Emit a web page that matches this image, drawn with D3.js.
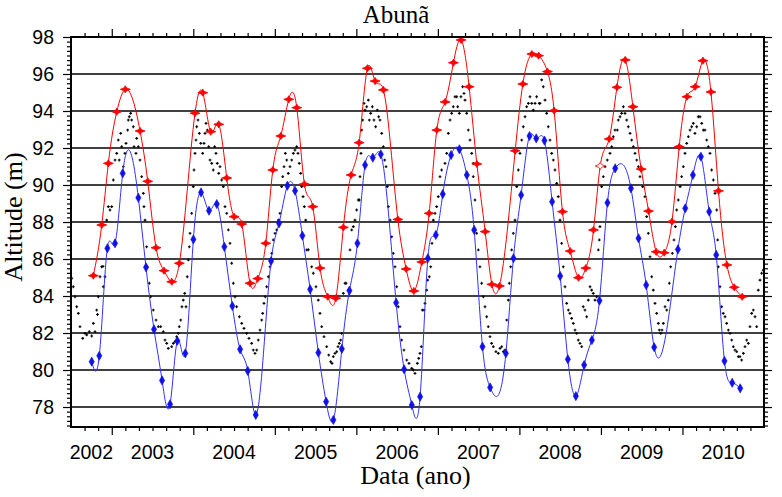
<!DOCTYPE html>
<html><head><meta charset="utf-8">
<script src="https://cdn.jsdelivr.net/npm/d3@7"></script>
<style>body{margin:0;background:#fff}</style>
</head><body>
<svg id="chart" width="782" height="497"></svg>
<script>
// ---------- data ----------
const chartTitle = "Abunã";
const xTitle = "Data (ano)";
const yTitle = "Altitude (m)";
const yearLabels = [2002, 2003, 2004, 2005, 2006, 2007, 2008, 2009, 2010];
const yTickValues = [78, 80, 82, 84, 86, 88, 90, 92, 94, 96, 98];

// in-situ gauge (black dots): decimal year, altitude (m) -- first reading pass
const gaugeYear = [2002.509,2002.549,2002.590,2002.644,2002.693,2002.754,2002.794,2002.825,2002.856,2002.892,2002.938,2002.978,
2003.040,2003.080,2003.122,2003.162,2003.203,2003.232,2003.264,2003.306,2003.346,2003.387,2003.408,2003.428,2003.460,2003.509,2003.571,2003.632,2003.674,2003.735,2003.776,2003.816,2003.846,2003.877,2003.911,2003.939,2003.960,2003.980,
2004.000,2004.021,2004.042,2004.074,2004.115,2004.144,2004.172,2004.205,2004.245,2004.278,2004.312,2004.348,2004.389,2004.410,2004.450,2004.491,2004.532,2004.594,2004.655,2004.716,2004.757,2004.797,2004.839,2004.867,2004.900,2004.941,2004.981,
2005.023,2005.063,2005.084,2005.113,2005.146,2005.186,2005.227,2005.268,2005.300,2005.330,2005.362,2005.379,2005.411,2005.472,2005.533,2005.575,2005.636,2005.685,2005.717,2005.759,2005.791,2005.820,2005.840,2005.861,2005.901,2005.943,2005.983,
2006.024,2006.045,2006.066,2006.106,2006.147,2006.176,2006.216,2006.257,2006.290,2006.331,2006.364,2006.392,2006.434,2006.474,2006.514,2006.556,2006.618,2006.679,2006.719,2006.748,2006.781,2006.809,2006.842,2006.875,2006.912,2006.944,2006.985,
2007.026,2007.087,2007.149,2007.189,2007.231,2007.263,2007.304,2007.333,2007.373,2007.415,2007.434,2007.455,2007.476,2007.516,2007.557,2007.599,2007.639,2007.680,2007.741,2007.783,2007.823,2007.844,2007.876,2007.905,2007.946,2007.967,
2008.007,2008.048,2008.089,2008.130,2008.170,2008.211,2008.244,2008.273,2008.314,2008.354,2008.396,2008.436,2008.477,2008.498,2008.538,2008.580,2008.620,2008.661,2008.703,2008.743,2008.764,2008.783,2008.825,2008.866,2008.906,2008.948,2008.968,2008.988,
2009.009,2009.050,2009.111,2009.152,2009.201,2009.234,2009.275,2009.316,2009.357,2009.397,2009.439,2009.479,2009.540,2009.581,2009.623,2009.663,2009.704,2009.733,2009.765,2009.786,2009.826,2009.855,2009.896,2009.929,2009.949,2009.990,
2010.031,2010.072,2010.113,2010.153,2010.194,2010.236,2010.276,2010.317,2010.358,2010.399,2010.420,2010.440,2010.481,2010.522,2010.563,2010.604,2010.644,2010.685,2010.726,2010.767,2010.808,2010.828,2010.869,2010.910,2010.930,2010.971,2010.991];
const gaugeAlt = [84.96,83.96,83.06,81.71,81.90,81.84,82.07,83.00,85.04,85.60,88.10,88.65,
91.35,92.43,92.07,91.71,93.51,93.87,93.15,92.52,91.35,89.55,88.10,86.66,84.69,83.24,82.34,82.07,81.44,81.26,81.53,81.98,82.70,83.78,83.42,85.95,87.39,88.47,
89.91,91.71,93.15,92.79,91.71,92.79,92.97,91.35,90.81,91.71,90.63,90.27,88.83,88.47,86.85,84.69,83.42,82.52,81.98,81.44,80.90,81.62,82.70,83.60,84.50,85.58,87.03,
87.57,88.47,89.91,90.99,91.35,90.99,91.71,92.07,91.17,89.91,88.83,88.10,86.50,85.23,83.78,82.34,81.26,80.45,80.72,80.99,81.44,81.98,84.14,84.69,84.32,87.57,88.10,
89.19,90.45,92.97,94.05,94.59,93.87,93.51,94.05,93.51,92.07,90.99,88.83,87.20,85.58,83.42,81.62,80.54,80.09,79.82,80.36,80.90,83.24,83.60,84.86,85.58,88.10,88.83,
90.45,91.17,93.51,94.23,94.77,93.87,95.31,94.59,92.97,91.71,90.45,89.19,87.39,85.58,83.96,82.88,81.80,81.26,80.90,81.26,81.08,82.70,84.69,86.49,88.10,89.91,
91.71,93.15,94.23,94.77,94.05,94.77,94.41,95.68,94.59,93.15,91.71,90.81,89.37,88.10,85.58,83.60,83.06,82.52,81.98,81.44,81.26,83.42,82.88,84.50,84.14,83.96,86.49,87.75,
89.91,90.99,91.71,92.61,92.97,93.69,94.23,93.51,92.79,92.07,91.35,90.45,89.37,87.39,85.04,83.60,82.52,81.98,82.52,83.42,83.78,85.58,87.03,88.65,89.19,90.45,
91.71,92.61,93.15,92.79,93.69,93.33,92.97,92.07,90.81,89.55,88.65,85.58,83.42,82.88,82.16,81.62,81.08,80.72,80.54,81.26,81.44,82.34,83.24,82.34,84.32,85.23,85.40];

// in-situ gauge -- second reading pass (in-between days)
const gaugeYear2 = [2002.528,2002.570,2002.610,2002.672,2002.724,2002.774,2002.815,2002.835,2002.876,2002.896,2002.917,2002.958,
2002.999,2003.019,2003.061,2003.092,2003.110,2003.142,2003.175,2003.195,2003.215,2003.244,2003.273,2003.297,2003.326,2003.367,2003.395,
2003.436,2003.477,2003.543,2003.600,2003.653,2003.693,2003.755,2003.796,2003.828,2003.861,2003.895,2003.926,2003.951,
2004.009,2004.033,2004.058,2004.091,2004.131,2004.156,2004.189,2004.226,2004.262,2004.294,2004.328,2004.368,
2004.430,2004.471,2004.512,2004.565,2004.622,2004.683,2004.736,2004.778,2004.818,2004.851,2004.883,2004.920,2004.962,2005.002,2005.043,
2005.097,2005.129,2005.165,2005.207,2005.247,2005.284,2005.317,2005.346,
2005.391,2005.452,2005.505,2005.554,2005.603,2005.661,2005.701,2005.738,2005.775,2005.808,2005.873,2005.922,2005.963,2006.004,
2006.036,2006.057,2006.078,2006.094,2006.127,2006.159,2006.196,2006.237,2006.274,2006.311,2006.347,2006.379,
2006.413,2006.453,2006.495,2006.535,2006.584,2006.646,2006.699,2006.765,2006.797,2006.830,2006.863,2006.895,2006.928,2006.965,
2007.005,2007.046,2007.108,2007.128,2007.169,2007.210,2007.243,2007.283,2007.320,2007.353,2007.394,2007.434,
2007.496,2007.537,2007.578,2007.618,2007.659,2007.712,2007.762,2007.803,2007.864,2007.893,2007.925,
2007.987,2008.028,2008.069,2008.110,2008.151,2008.192,2008.252,2008.293,2008.334,2008.375,2008.416,2008.457,
2008.518,2008.559,2008.600,2008.641,2008.682,2008.722,2008.804,2008.845,2008.886,2008.927,2008.980,
2009.029,2009.078,2009.132,2009.172,2009.213,2009.254,2009.295,2009.336,2009.377,2009.418,2009.459,2009.512,
2009.561,2009.602,2009.642,2009.684,2009.716,2009.749,2009.807,2009.839,2009.876,2009.913,
2009.971,2010.011,2010.052,2010.093,2010.133,2010.175,2010.215,2010.256,2010.297,2010.338,2010.379,
2010.432,2010.460,2010.500,2010.542,2010.583,2010.624,2010.665,2010.705,2010.747,2010.788,2010.849,2010.890,2010.951];
const gaugeAlt2 = [84.50,83.42,82.34,81.98,82.07,82.52,83.24,83.96,85.58,84.50,85.04,88.83,
88.83,90.27,91.71,91.35,92.79,90.99,92.25,92.97,93.69,93.51,92.07,91.71,92.07,90.45,88.83,
85.58,83.96,82.70,82.34,81.62,81.17,81.44,81.80,82.34,83.42,84.14,85.04,86.66,
90.81,92.43,93.51,92.25,92.25,93.33,92.07,91.17,92.07,91.17,90.99,89.91,
87.57,85.77,83.96,82.88,82.25,81.71,81.08,81.08,82.16,83.06,83.96,85.04,86.31,87.39,88.10,
90.45,91.71,90.63,91.35,91.89,91.71,90.63,89.37,
86.49,85.58,84.50,83.06,81.80,80.81,80.36,80.90,81.26,81.62,84.69,86.49,87.75,88.65,
89.19,91.71,93.51,94.41,94.23,93.51,94.23,93.15,93.69,92.79,91.35,89.91,
88.10,86.31,84.50,82.34,81.08,80.36,80.00,80.63,81.26,83.24,84.32,85.04,86.85,88.47,
89.37,90.81,91.71,92.79,93.87,94.77,94.23,94.77,94.95,93.87,92.43,91.17,
86.49,84.69,83.42,82.34,81.44,80.99,81.17,80.99,83.78,85.58,87.39,
90.81,92.43,93.69,94.41,94.41,94.41,94.41,95.31,93.87,92.43,91.35,90.09,
86.85,84.50,83.24,82.79,82.16,81.62,83.24,83.78,84.32,83.78,87.03,
90.45,91.35,92.07,92.97,93.51,93.87,93.87,93.15,92.43,91.71,90.99,89.91,
88.29,86.12,84.32,83.06,82.16,82.16,83.24,84.69,86.31,87.75,
89.91,90.99,92.25,92.97,93.33,93.15,93.69,92.97,92.43,91.71,90.27,
87.03,84.50,83.06,82.52,81.98,81.26,80.99,80.72,80.90,81.62,83.06,82.88,84.86];

// altimetry series 1 (red)
const redYear = [2002.774,2002.877,2002.958,2003.061,2003.166,2003.347,2003.441,2003.543,2003.641,2003.736,2003.829,2004.021,2004.116,2004.214,2004.312,2004.410,2004.500,2004.594,2004.696,2004.791,2004.889,2004.975,2005.073,2005.171,2005.269,2005.363,2005.465,2005.555,2005.649,2005.748,2005.841,2005.936,2006.034,2006.136,2006.230,2006.332,2006.509,2006.611,2006.705,2006.803,2006.893,2006.987,2007.089,2007.191,2007.285,2007.383,2007.478,2007.580,2007.662,2007.755,2007.948,2008.042,2008.153,2008.235,2008.344,2008.426,2008.528,2008.623,2008.725,2008.815,2008.909,2008.991,2009.101,2009.196,2009.298,2009.392,2009.494,2009.584,2009.678,2009.776,2009.871,2009.960,2010.055,2010.156,2010.251,2010.349,2010.442,2010.545,2010.635,2010.733];
const redAlt = [85.10,87.84,91.17,93.96,95.17,92.92,90.20,86.61,85.37,84.77,85.77,93.88,94.99,92.88,93.28,90.38,88.29,87.89,84.69,84.94,86.85,90.81,92.65,94.63,94.18,90.05,88.83,85.51,83.96,83.88,87.71,90.54,92.29,96.31,95.62,95.14,88.14,85.46,84.27,85.84,88.47,92.97,94.49,96.61,97.84,95.31,91.14,87.48,84.63,84.54,91.85,95.46,97.08,96.99,96.13,94.02,88.56,86.43,84.99,85.51,87.57,91.03,92.49,95.28,96.76,94.23,90.86,88.59,86.39,86.34,88.02,92.07,94.77,95.31,96.72,95.03,89.68,85.68,84.47,83.96];
const redHollow = [2008.991];

// altimetry series 2 (blue)
const blueYear = [2002.754,2002.847,2002.946,2003.040,2003.134,2003.326,2003.420,2003.518,2003.617,2003.715,2003.804,2003.902,2004.001,2004.095,2004.193,2004.288,2004.381,2004.479,2004.574,2004.668,2004.766,2004.954,2005.052,2005.154,2005.248,2005.338,2005.433,2005.534,2005.629,2005.718,2005.822,2005.915,2006.013,2006.107,2006.202,2006.300,2006.488,2006.586,2006.680,2006.782,2006.877,2006.975,2007.060,2007.162,2007.264,2007.355,2007.445,2007.547,2007.641,2007.834,2007.927,2008.021,2008.124,2008.206,2008.307,2008.401,2008.500,2008.594,2008.692,2008.794,2008.889,2008.982,2009.080,2009.175,2009.368,2009.461,2009.555,2009.653,2009.944,2010.034,2010.128,2010.226,2010.328,2010.414,2010.515,2010.610,2010.708];
const blueAlt = [80.45,80.77,86.58,86.85,90.63,89.31,85.55,82.20,79.44,78.15,81.58,80.90,87.06,89.60,88.61,88.97,86.66,83.46,81.12,79.95,77.57,85.89,87.93,89.96,89.69,87.26,84.36,80.94,78.29,77.30,81.14,84.29,86.85,91.08,91.48,91.66,83.64,80.04,78.11,78.56,86.04,87.30,89.51,91.62,91.93,90.54,87.57,81.26,79.06,80.90,86.04,89.46,92.65,92.52,92.40,89.10,85.08,80.58,78.59,80.27,81.62,83.75,89.04,90.90,89.82,87.12,84.59,81.23,86.52,88.74,90.54,91.53,88.56,86.22,80.49,79.31,79.01];

// ---------- drawing ----------
const svg = d3.select("#chart");
const X0 = 71, X1 = 764, Y0 = 37, Y1 = 427;
const x = d3.scaleLinear().domain([2002.5, 2011]).range([X0, X1]);
const y = d3.scaleLinear().domain([76.92, 98]).range([Y1, Y0]);

const sans = "'Liberation Sans', Arial, sans-serif";
const serif = "'Liberation Serif', 'Times New Roman', serif";

// natural cubic spline y(x) as a d3 curve (emits one Bezier per segment)
function curveSplineX(context) {
  let xs, ys;
  return {
    areaStart() {}, areaEnd() {},
    lineStart() { xs = []; ys = []; },
    point(px, py) { xs.push(+px); ys.push(+py); },
    lineEnd() {
      const n = xs.length;
      if (!n) return;
      context.moveTo(xs[0], ys[0]);
      if (n === 1) return;
      if (n === 2) { context.lineTo(xs[1], ys[1]); return; }
      const h = [];
      for (let i = 0; i < n - 1; i++) h.push(xs[i + 1] - xs[i]);
      const a = [], b = [], c = [], r = [];
      for (let i = 1; i < n - 1; i++) {
        a.push(h[i - 1]); b.push(2 * (h[i - 1] + h[i])); c.push(h[i]);
        r.push(6 * ((ys[i + 1] - ys[i]) / h[i] - (ys[i] - ys[i - 1]) / h[i - 1]));
      }
      const m = r.length;
      for (let i = 1; i < m; i++) { const w = a[i] / b[i - 1]; b[i] -= w * c[i - 1]; r[i] -= w * r[i - 1]; }
      const sol = new Array(m);
      sol[m - 1] = r[m - 1] / b[m - 1];
      for (let i = m - 2; i >= 0; i--) sol[i] = (r[i] - c[i] * sol[i + 1]) / b[i];
      const M = [0, ...sol, 0];
      for (let i = 0; i < n - 1; i++) {
        const hi = h[i], s = (ys[i + 1] - ys[i]) / hi;
        const d0 = s - hi * (2 * M[i] + M[i + 1]) / 6;
        const d1 = s + hi * (M[i] + 2 * M[i + 1]) / 6;
        context.bezierCurveTo(xs[i] + hi / 3, ys[i] + d0 * hi / 3,
                              xs[i + 1] - hi / 3, ys[i + 1] - d1 * hi / 3,
                              xs[i + 1], ys[i + 1]);
      }
    }
  };
}

svg.append("rect").attr("width", 782).attr("height", 497).attr("fill", "#fff");

svg.append("defs").append("clipPath").attr("id", "plot")
  .append("rect").attr("x", X0).attr("y", Y0).attr("width", X1 - X0).attr("height", Y1 - Y0);

// gridlines
svg.append("g").selectAll("line").data(yTickValues.filter(v => v < 98)).join("line")
  .attr("x1", X0).attr("x2", X1).attr("y1", d => y(d)).attr("y2", d => y(d))
  .attr("stroke", "#000").attr("stroke-width", 1.5);

const minorY = d3.range(77, 98.001, 0.25).filter(v => Math.abs(v / 2 - Math.round(v / 2)) > 1e-6);
const minorX = d3.range(0, 52).map(i => 2002.5 + i / 6).filter(v => Math.abs(v - Math.round(v)) > 1e-6 && v > 2002.55 && v < 2010.99);
const majorX = yearLabels.filter(v => v > 2002.5);

function styleAxis(g) {
  g.select(".domain").remove();
  g.selectAll(".tick line").attr("stroke", "#000").attr("stroke-width", 1.2);
}

svg.append("g").attr("transform", `translate(${X0},0)`)
  .call(d3.axisLeft(y).tickValues(yTickValues).tickSize(8).tickPadding(9).tickFormat(d3.format("d")))
  .call(styleAxis)
  .call(g => g.selectAll("text").attr("font-family", sans).attr("font-size", "19.5px").attr("fill", "#000"));
svg.append("g").attr("transform", `translate(${X0},0)`)
  .call(d3.axisLeft(y).tickValues(minorY).tickSize(4).tickFormat("")).call(styleAxis);
svg.append("g").attr("transform", `translate(${X1},0)`)
  .call(d3.axisRight(y).tickValues(yTickValues).tickSize(8).tickFormat("")).call(styleAxis);
svg.append("g").attr("transform", `translate(${X1},0)`)
  .call(d3.axisRight(y).tickValues(minorY).tickSize(4).tickFormat("")).call(styleAxis);
svg.append("g").attr("transform", `translate(0,${Y1})`)
  .call(d3.axisBottom(x).tickValues(majorX).tickSize(8).tickFormat("")).call(styleAxis);
svg.append("g").attr("transform", `translate(0,${Y1})`)
  .call(d3.axisBottom(x).tickValues(minorX).tickSize(4).tickFormat("")).call(styleAxis);
svg.append("g").attr("transform", `translate(0,${Y0})`)
  .call(d3.axisTop(x).tickValues(majorX).tickSize(8).tickFormat("")).call(styleAxis);
svg.append("g").attr("transform", `translate(0,${Y0})`)
  .call(d3.axisTop(x).tickValues(minorX).tickSize(4).tickFormat("")).call(styleAxis);

const [d0, d1] = x.domain();
svg.append("g").selectAll("text").data(yearLabels).join("text")
  .attr("x", d => x((Math.max(d, d0) + Math.min(d + 1, d1)) / 2))
  .attr("y", 459)
  .attr("text-anchor", "middle")
  .attr("font-family", sans).attr("font-size", "19.5px").attr("fill", "#000")
  .text(d => d);

const layer = svg.append("g").attr("clip-path", "url(#plot)");

const gauge = gaugeYear.map((t, i) => [t, gaugeAlt[i]])
  .concat(gaugeYear2.map((t, i) => [t, gaugeAlt2[i]]));
layer.append("g").selectAll("path").data(gauge).join("path")
  .attr("transform", d => `translate(${x(d[0])},${y(d[1])})`)
  .attr("d", "M-1.4,0H1.4M0,-1.4V1.4")
  .attr("stroke", "#000").attr("stroke-width", 1.1).attr("fill", "none");

const line = d3.line().x(d => x(d[0])).y(d => y(d[1])).curve(curveSplineX);

const red = redYear.map((t, i) => [t, redAlt[i]]);
const blue = blueYear.map((t, i) => [t, blueAlt[i]]);

layer.append("path").datum(red).attr("d", line)
  .attr("fill", "none").attr("stroke", "#ff0000").attr("stroke-width", 1);
layer.append("path").datum(blue).attr("d", line)
  .attr("fill", "none").attr("stroke", "#3030ff").attr("stroke-width", 1);

const starPath = "M-5,0L-1.4,-1.4L0,-3.6L1.4,-1.4L5,0L1.4,1.4L0,3.6L-1.4,1.4Z";
const diamondPath = "M0,-4.6L2.6,0L0,4.6L-2.6,0Z";

layer.append("g").selectAll("path").data(red).join("path")
  .attr("transform", d => `translate(${x(d[0])},${y(d[1])})`)
  .attr("d", starPath)
  .attr("fill", d => redHollow.includes(d[0]) ? "#fff" : "#ff0000")
  .attr("stroke", "#ff0000").attr("stroke-width", 0.8);

layer.append("g").selectAll("path").data(blue).join("path")
  .attr("transform", d => `translate(${x(d[0])},${y(d[1])})`)
  .attr("d", diamondPath)
  .attr("fill", "#1010e8").attr("stroke", "#1010e8").attr("stroke-width", 0.6);

svg.append("rect").attr("x", X0).attr("y", Y0).attr("width", X1 - X0).attr("height", Y1 - Y0)
  .attr("fill", "none").attr("stroke", "#000").attr("stroke-width", 2);

svg.append("text").attr("x", 396).attr("y", 23).attr("text-anchor", "middle")
  .attr("font-family", serif).attr("font-size", "25px").attr("fill", "#000").text(chartTitle);
svg.append("text").attr("x", 415.5).attr("y", 484).attr("text-anchor", "middle")
  .attr("font-family", serif).attr("font-size", "26px").attr("fill", "#000").text(xTitle);
svg.append("text").attr("transform", "translate(22,217) rotate(-90)").attr("text-anchor", "middle")
  .attr("font-family", serif).attr("font-size", "26px").attr("fill", "#000").text(yTitle);
</script>
</body></html>
